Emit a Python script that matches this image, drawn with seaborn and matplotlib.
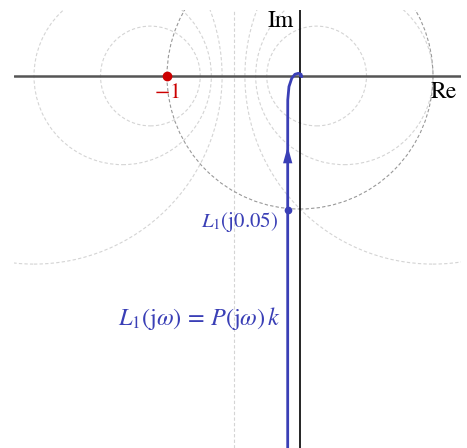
import numpy as np
import pandas as pd
import matplotlib
matplotlib.use("Agg")
import matplotlib.pyplot as plt
from matplotlib.patches import Circle
import seaborn as sns

sns.set_theme(style="white")
plt.rcParams["font.family"] = ["STIXGeneral", "DejaVu Serif"]
plt.rcParams["mathtext.fontset"] = "stix"

# Nyquist curve of the loop gain L1(jw) = P(jw) k, read point by point
re_pts = [-0.0925, -0.0925, -0.0925, -0.0925, -0.0925, -0.0923, -0.092,
          -0.083, -0.062, -0.038, -0.013, 0.008, 0.013, 0.002]
im_pts = [-3.10, -2.00, -1.005, -0.619, -0.531, -0.30, -0.180,
          -0.080, -0.017, 0.013, 0.020, 0.013, -0.005, 0.0]
w_mark_label = "0.05"
w_mark_idx = 2           # point on the curve at w = 0.05
arrow_idx = (3, 4)       # direction arrow between these two points

# constant-magnitude (M) circles of the closed loop
m_values = [1 / 3, 1 / 2, 1 / np.sqrt(2), np.sqrt(2), 2, 3]
m_unity_re = -0.5        # the M = 1 locus is a straight line

critical_pt = (-1.0, 0.0)

blue = "#3a3fb6"
red = "#cc0000"

fig = plt.figure(figsize=(4.67, 4.48), dpi=100)
ax = fig.add_axes([14 / 467, 0.0, 447 / 467, 438 / 448])
ax.set_xlim(-286 / 133, 161 / 133)
ax.set_ylim(-372 / 133, 66 / 133)
ax.set_aspect("equal", adjustable="box")
ax.set_axis_off()

# M-circles
for m in m_values:
    c = -m ** 2 / (m ** 2 - 1)
    r = m / abs(m ** 2 - 1)
    ax.add_patch(Circle((c, 0), r, fill=False, ec="#d4d4d4", lw=0.8,
                        ls=(0, (3, 2)), zorder=1))
ax.axvline(m_unity_re, color="#d4d4d4", lw=0.8, ls=(0, (3, 2)), zorder=1)

# unit circle
ax.add_patch(Circle((0, 0), 1.0, fill=False, ec="#999999", lw=0.8,
                    ls=(0, (3, 2)), zorder=1.5))

# axes of the complex plane
ax.axhline(0, color="#555555", lw=1.8, zorder=2)
ax.axvline(0, color="black", lw=1.2, zorder=2)
ax.text(1.083, -0.045, "Re", fontsize=17, ha="center", va="top", color="black")
ax.text(-0.045, 0.41, "Im", fontsize=17, ha="right", va="center", color="black")

# Nyquist curve
df = pd.DataFrame({"re": re_pts, "im": im_pts})
sns.lineplot(data=df, x="re", y="im", sort=False, estimator=None,
             color=blue, lw=2.0, ax=ax, zorder=4)
ax.annotate("", xy=(re_pts[arrow_idx[1]], im_pts[arrow_idx[1]]),
            xytext=(re_pts[arrow_idx[0]], im_pts[arrow_idx[0]]),
            arrowprops=dict(arrowstyle="-|>,head_length=1.0,head_width=0.28",
                            color=blue, lw=0, shrinkA=0, shrinkB=0), zorder=5)

# marked frequency
ax.plot(re_pts[w_mark_idx], im_pts[w_mark_idx], "o", color=blue, ms=4.5, zorder=5)
ax.text(re_pts[w_mark_idx] - 0.075, im_pts[w_mark_idx] - 0.095,
        r"$L_1(\mathrm{j}" + w_mark_label + ")$", fontsize=15,
        ha="right", va="center", color=blue)
ax.text(-0.143, -1.82, r"$L_1(\mathrm{j}\omega)\,=\,P(\mathrm{j}\omega)\,k$",
        fontsize=17.5, ha="right", va="center", color=blue)

# critical point
ax.plot(*critical_pt, "o", color=red, ms=6, zorder=6)
ax.text(critical_pt[0], -0.055, r"$-1$", fontsize=16, ha="center", va="top",
        color=red)

fig.savefig("out.png", dpi=100)
